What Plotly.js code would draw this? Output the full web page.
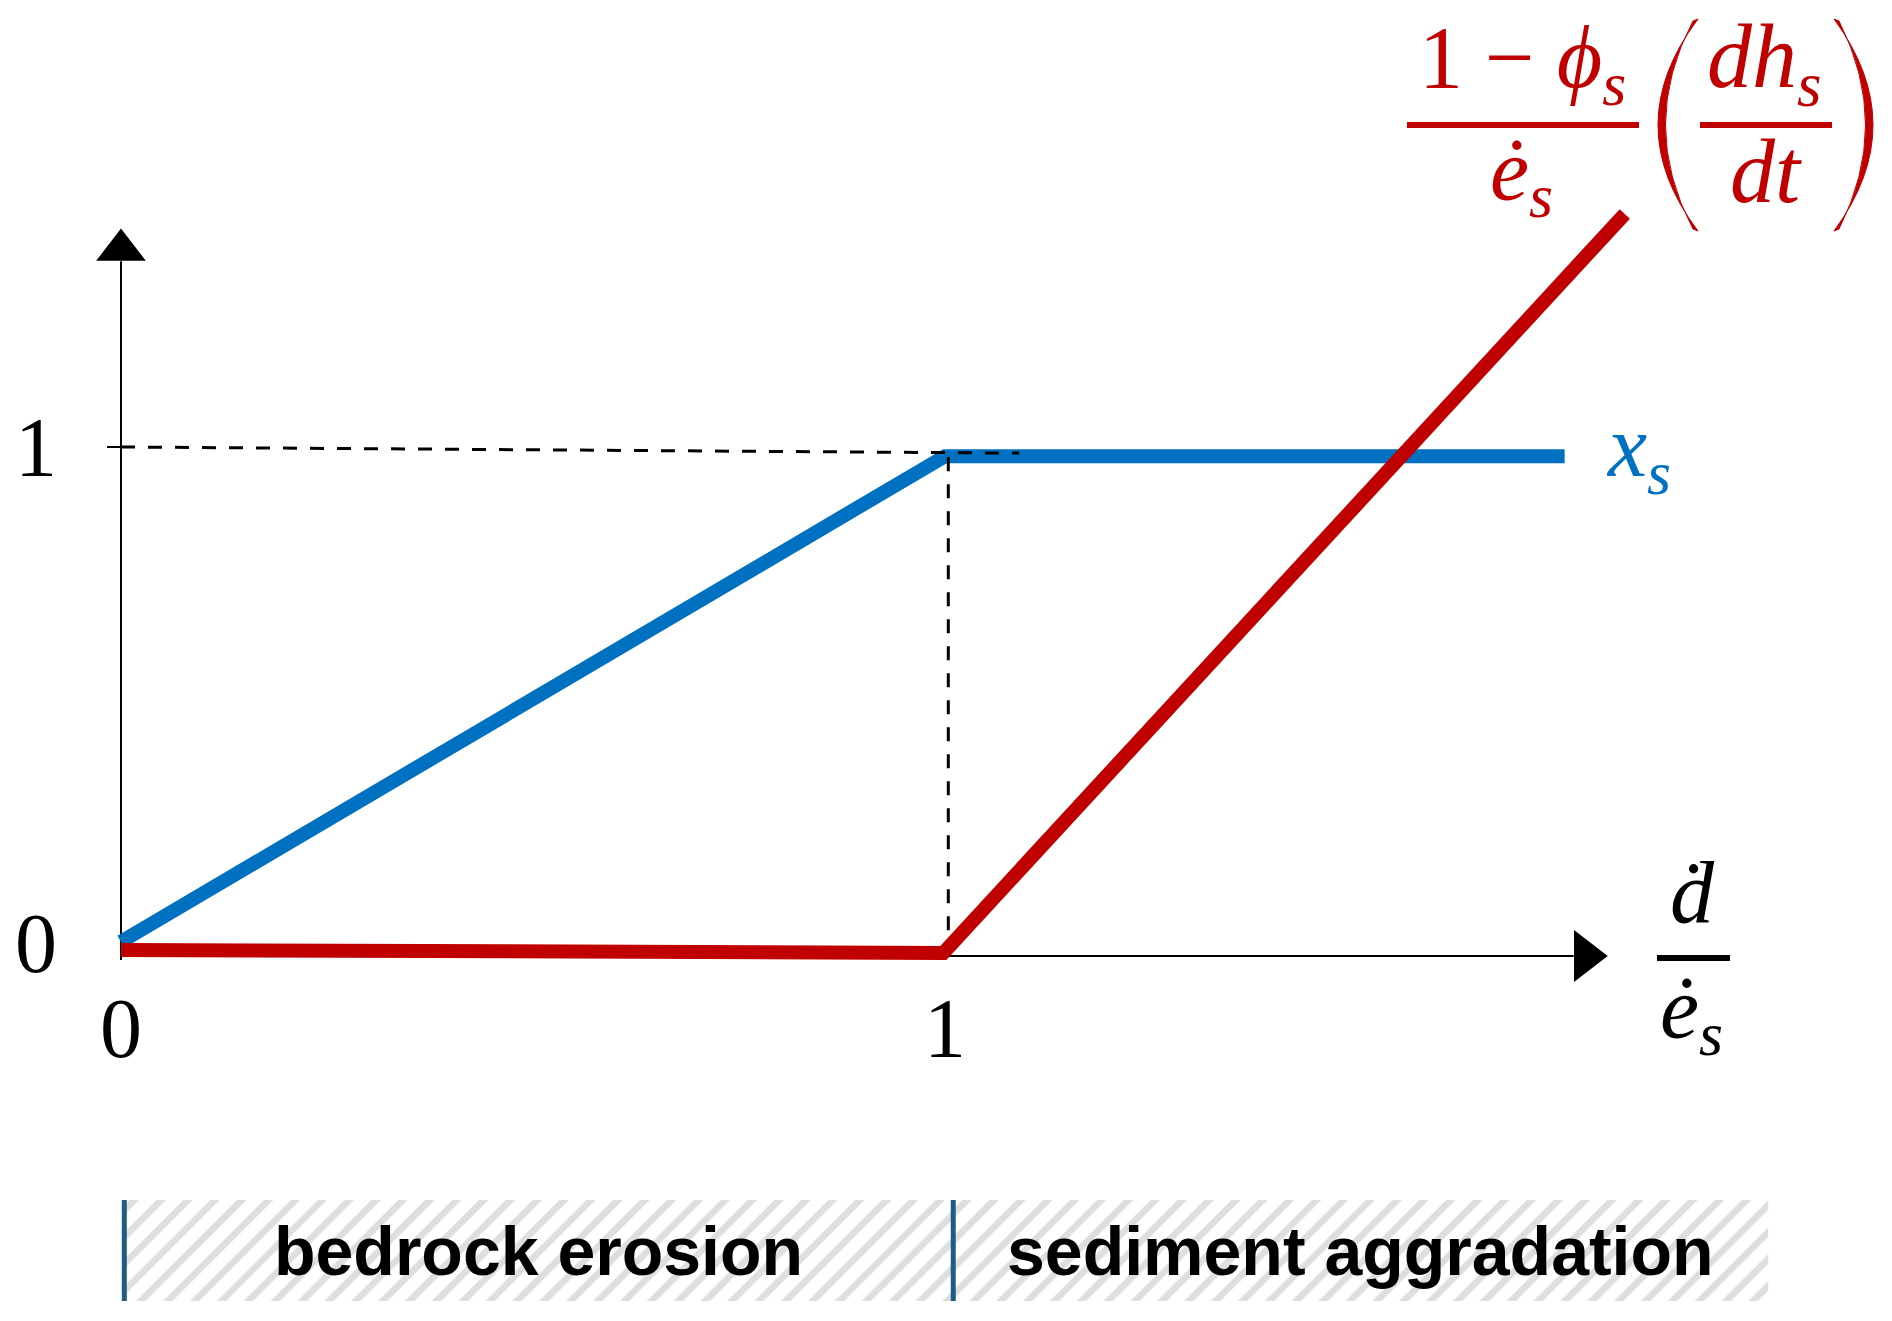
<!DOCTYPE html>
<html>
<head>
<meta charset="utf-8">
<script src="https://cdn.plot.ly/plotly-3.0.1.min.js"></script>
<style>
  html, body { margin: 0; padding: 0; background: #fff; }
  #plot { width: 1892px; height: 1321px; }
</style>
</head>
<body>
<div id="plot"></div>
<script>
// x_s : sediment cover fraction vs d/e_s
var xsX = [0, 1.0, 1.752];
var xsY = [0.028, 0.982, 0.982];

// (1-phi_s)/e_s * dh_s/dt vs d/e_s
var rateX = [0, 0.998, 1.825];
var rateY = [0.012, 0.006, 1.458];

// dashed guides at y = 1 and x = 1
var guideHX = [0, 1.09];
var guideHY = [1, 0.988];
var guideVX = [1.004, 1.004];
var guideVY = [0.98, 0.012];

// axes
var xAxisEnd = 1.763;
var yAxisEnd = 1.365;
var xTickVals = [0, 1];
var xTickText = ['0', '1'];
var yTickVals = [0, 1];
var yTickText = ['0', '1'];

// regimes along the bottom
var regimeNames = ['bedrock erosion', 'sediment aggradation'];
var regimeStart = [0.004, 1.01];
var regimeEnd = [1.01, 1.999];

var RED = '#C00000';
var BLUE = '#0070C0';
var BAR = '#1F5C82';

// page / unit mapping (margins are 0, so the plot area is the whole page)
var W = 1892, H = 1321;
var X0 = 121, XU = 824, Y0 = 956, YU = 509;
function px(x) { return x / W; }
function py(y) { return 1 - y / H; }

var traces = [];

// axis lines + arrow heads
traces.push({x: [0, xAxisEnd], y: [0, 0], mode: 'lines', line: {color: '#000', width: 2}});
traces.push({x: [0, 0], y: [-0.008, yAxisEnd], mode: 'lines', line: {color: '#000', width: 2}});
traces.push({x: [xAxisEnd + 0.014], y: [0], mode: 'markers',
  marker: {symbol: 'triangle-right', size: 45, color: '#000'}});
traces.push({x: [0], y: [yAxisEnd + 0.022], mode: 'markers',
  marker: {symbol: 'triangle-up', size: 43, color: '#000'}});
// small tick at y = 1
traces.push({x: [-0.017, 0], y: [1, 1], mode: 'lines', line: {color: '#000', width: 2}});

// x_s
traces.push({x: xsX, y: xsY, mode: 'lines', line: {color: BLUE, width: 14}});

// guides
traces.push({x: guideHX, y: guideHY, mode: 'lines', line: {color: '#000', width: 3, dash: '14px,13px'}});
traces.push({x: guideVX, y: guideVY, mode: 'lines', line: {color: '#000', width: 3, dash: '14px,13px'}});

// rate
traces.push({x: rateX, y: rateY, mode: 'lines', line: {color: RED, width: 14}});

// regime band (hatched) on its own y axis
regimeNames.forEach(function (name, i) {
  var s = regimeStart[i], e = regimeEnd[i];
  traces.push({
    x: [s, e, e, s, s], y: [0, 0, 1, 1, 0], yaxis: 'y2',
    mode: 'lines', line: {width: 0}, fill: 'toself',
    fillcolor: '#FFFFFF',
    fillpattern: {shape: '/', fgcolor: '#DEDEDE', bgcolor: '#FFFFFF', size: 19, solidity: 0.35}
  });
  traces.push({x: [s, s], y: [0, 1], yaxis: 'y2', mode: 'lines', line: {color: BAR, width: 5}});
});

var annotations = [];
var serif = 'Liberation Serif, Times New Roman, serif';

yTickVals.forEach(function (v, i) {
  annotations.push({xref: 'x', yref: 'y', x: (36 - X0) / XU, y: v, yshift: v === 0 ? 13 : 0,
    text: yTickText[i], showarrow: false, xanchor: 'center', yanchor: 'middle',
    font: {family: serif, size: 84, color: '#000'}});
});
xTickVals.forEach(function (v, i) {
  annotations.push({xref: 'x', yref: 'y', x: v, y: 0, yshift: -72,
    text: xTickText[i], showarrow: false, xanchor: 'center', yanchor: 'middle',
    font: {family: serif, size: 84, color: '#000'}});
});

regimeNames.forEach(function (name, i) {
  annotations.push({xref: 'x', yref: 'y2', x: (regimeStart[i] + regimeEnd[i]) / 2, y: 0.5,
    text: '<b>' + name + '</b>', showarrow: false, xanchor: 'center', yanchor: 'middle',
    font: {family: 'Liberation Sans, Arial, sans-serif', size: 68, color: '#000'}});
});

function label(text, x, y, color, size, xanchor) {
  annotations.push({xref: 'paper', yref: 'paper', x: px(x), y: py(y), text: text,
    showarrow: false, xanchor: xanchor || 'center', yanchor: 'middle',
    font: {family: serif, size: size, color: color}});
}

// red formula
label('1 \u2212 <i>\u03D5<sub>s</sub></i>', 1522, 63, RED, 88);
label('<i>\u0117<sub>s</sub></i>', 1521, 175, RED, 88);
label('<i>dh<sub>s</sub></i>', 1764, 63, RED, 90);
label('<i>dt</i>', 1766, 172, RED, 90);
// blue label
label('<i>x<sub>s</sub></i>', 1604, 452, BLUE, 88, 'left');
// x axis label
label('<i>\u1E0B</i>', 1692, 892, '#000', 88);
label('<i>\u0117<sub>s</sub></i>', 1691, 1013, '#000', 88);

function hbar(x0, x1, y, color, w) {
  return {type: 'line', xref: 'paper', yref: 'paper', x0: px(x0), x1: px(x1), y0: py(y), y1: py(y),
    line: {color: color, width: w}};
}
function paren(xEnd, xMid, yTop, yBot, dir, color) {
  // crescent: outer bulge reaches xMid, inner edge is a bit thinner
  var ym = (yTop + yBot) / 2;
  var cOut = 2 * xMid - xEnd;
  var xIn = xMid - dir * 10;
  var cIn = 2 * xIn - xEnd;
  var path = 'M' + px(xEnd - dir * 2) + ',' + py(yTop - 1) +
    ' Q' + px(cOut) + ',' + py(ym) + ' ' + px(xEnd - dir * 2) + ',' + py(yBot + 1) +
    ' L' + px(xEnd + dir * 3) + ',' + py(yBot - 1) +
    ' Q' + px(cIn) + ',' + py(ym) + ' ' + px(xEnd + dir * 3) + ',' + py(yTop + 1) + ' Z';
  return {type: 'path', xref: 'paper', yref: 'paper', path: path,
    fillcolor: color, line: {color: color, width: 1}};
}

var shapes = [
  hbar(1407, 1639, 125, RED, 6),
  hbar(1700, 1832, 125, RED, 6),
  hbar(1657, 1730, 958, '#000', 6),
  paren(1696, 1657, 20, 230, -1, RED),
  paren(1836, 1874, 20, 230, 1, RED)
];

var layout = {
  width: W, height: H,
  margin: {l: 0, r: 0, t: 0, b: 0},
  paper_bgcolor: '#FFFFFF',
  plot_bgcolor: 'rgba(0,0,0,0)',
  showlegend: false,
  xaxis: {visible: false, range: [-X0 / XU, (W - X0) / XU], fixedrange: true},
  yaxis: {visible: false, range: [(Y0 - H) / YU, Y0 / YU], fixedrange: true},
  yaxis2: {visible: false, domain: [1 - 1301 / H, 1 - 1200 / H], range: [0, 1], anchor: 'x', fixedrange: true},
  annotations: annotations,
  shapes: shapes
};

Plotly.newPlot('plot', traces, layout, {displayModeBar: false, staticPlot: true});
</script>
</body>
</html>
